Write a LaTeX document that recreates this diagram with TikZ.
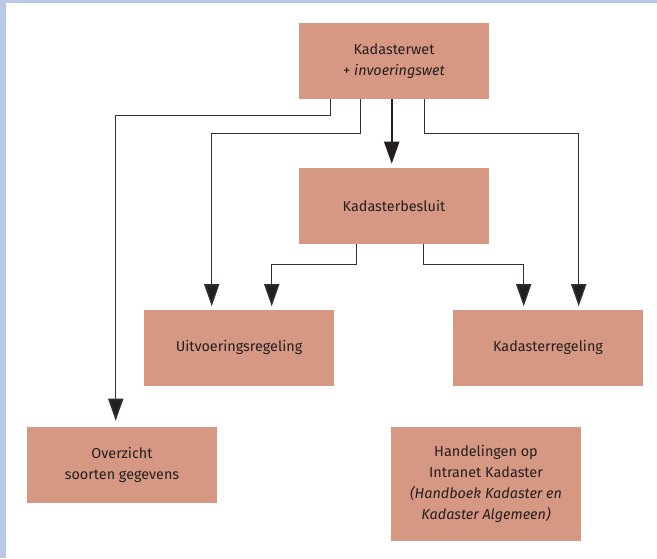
\documentclass[tikz,border=0pt]{standalone}
\usepackage{fontspec}
\setmainfont{Fira Sans}
\usetikzlibrary{arrows.meta,calc}
\definecolor{boxfill}{RGB}{215,152,131}
\definecolor{frameblue}{RGB}{185,200,232}
\definecolor{ink}{RGB}{35,31,32}
\definecolor{wire}{RGB}{50,48,48}
\tikzset{
  lawbox/.style={draw=none, fill=boxfill, minimum width=142.5pt, minimum height=57pt,
    inner sep=0pt, align=center, text=ink,
    font=\fontsize{10.8}{15.75}\selectfont},
  conn/.style={draw=wire, line width=1.1pt,
    -{Triangle[length=16.5pt,width=11.25pt,fill=ink]}, shorten >=2.25pt},
  mainconn/.style={conn, draw=ink, line width=1.6pt, shorten >=3pt}
}
\begin{document}
\begin{tikzpicture}[x=0.75pt, y=-0.75pt]
  % page area and the blue frame on the left and top
  \useasboundingbox (0,0) rectangle (657,558);
  \fill[white] (0,0) rectangle (657,558);
  \fill[frameblue] (0,0) rectangle (6,558);
  \fill[frameblue] (0,0) rectangle (657,3);

  % boxes
  \node[lawbox] (kw) at (394,61) {Kadasterwet\\+ \textit{invoeringswet}};
  \node[lawbox] (kb) at (394,206) {Kadasterbesluit};
  \node[lawbox] (uv) at (239,347.5) {Uitvoeringsregeling};
  \node[lawbox] (kr) at (548,347.5) {Kadasterregeling};
  \node[lawbox] (ov) at (122,465) {Overzicht\\soorten gegevens};
  \node[lawbox, minimum height=85.5pt] (hd) at (486,484)
    {Handelingen op\\Intranet Kadaster\\\textit{(Handboek Kadaster en}\\\textit{Kadaster Algemeen)}};

  % connectors from the Kadasterwet
  \draw[conn, shorten >=4.5pt] ($(kw.south west)+(32,0)$) -- ++(0,16) -| ($(ov.north west)+(89,0)$);
  \draw[conn] ($(kw.south west)+(62,0)$) -- ++(0,34) -| ($(uv.north west)+(68,0)$);
  \draw[mainconn] ($(kw.south west)+(93,0)$) -- ($(kb.north west)+(93,0)$);
  \draw[conn] ($(kw.south west)+(126,0)$) -- ++(0,34) -| ($(kr.north west)+(126,0)$);

  % connectors from the Kadasterbesluit
  \draw[conn] ($(kb.south west)+(58,0)$) -- ++(0,20) -| ($(uv.north west)+(128,0)$);
  \draw[conn] ($(kb.south west)+(125,0)$) -- ++(0,20) -| ($(kr.north west)+(71,0)$);
\end{tikzpicture}
\end{document}
